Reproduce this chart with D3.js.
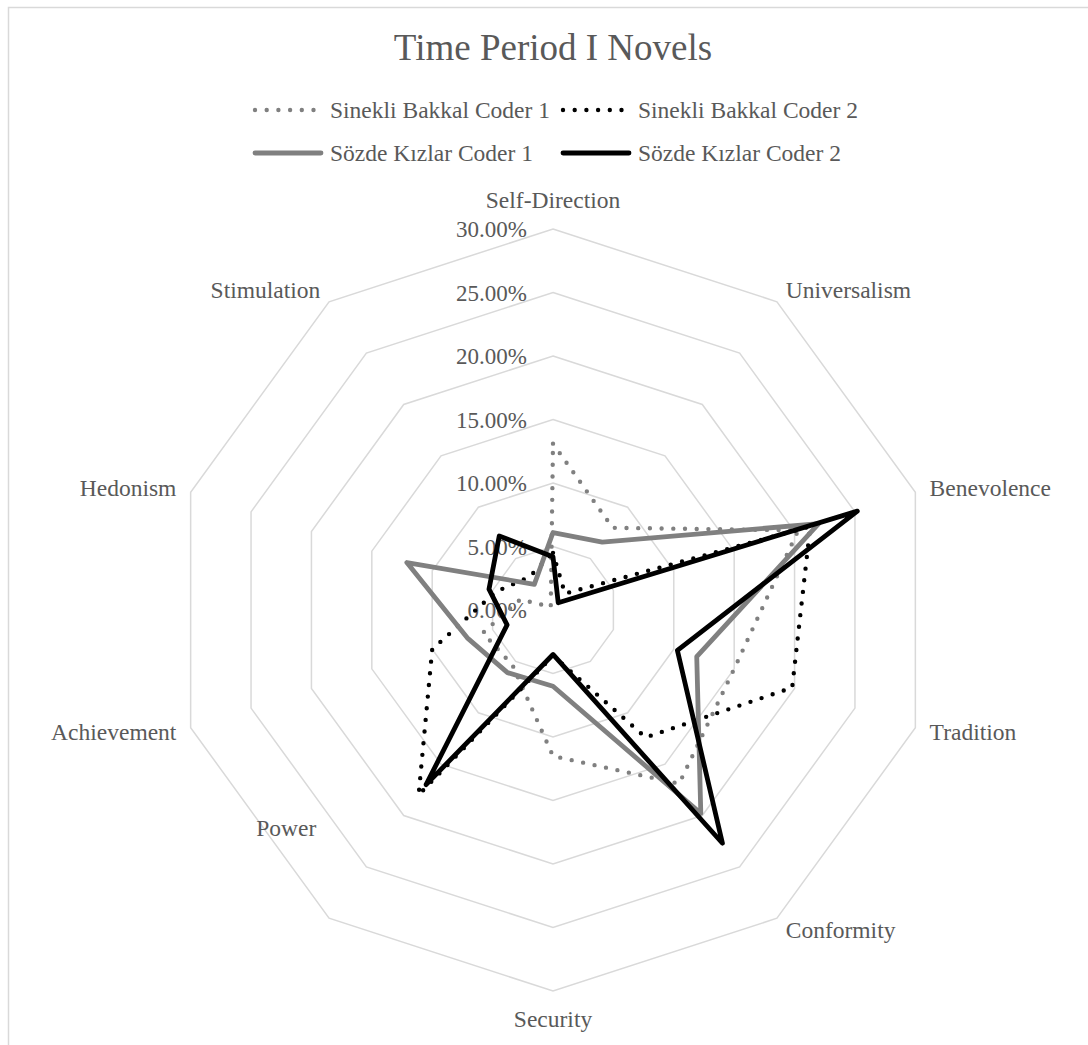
<!DOCTYPE html>
<html>
<head>
<meta charset="utf-8">
<script src="https://cdn.jsdelivr.net/npm/d3@7"></script>
<style>
  html, body { margin: 0; padding: 0; background: #fff; }
  svg { display: block; font-family: "Liberation Serif", "Times New Roman", serif; }
</style>
</head>
<body>
<div id="chart"></div>
<script>
// values, in percent, clockwise from the top axis
var categories = ["Self-Direction", "Universalism", "Benevolence", "Tradition", "Conformity",
                  "Security", "Power", "Achievement", "Hedonism", "Stimulation"];
var sinekliCoder1 = [13.1, 8.0, 20.3, 15.0, 16.9, 11.5, 5.4, 5.8, 2.7, 0.3];
var sinekliCoder2 = [4.5, 1.6, 21.3, 19.8, 12.4, 3.6, 18.0, 10.0, 4.7, 3.2];
var sozdeCoder1 = [6.1, 6.6, 22.0, 11.9, 19.8, 6.0, 6.1, 7.1, 12.1, 2.5];
var sozdeCoder2 = [4.2, 0.7, 25.2, 10.3, 22.7, 3.5, 17.0, 3.8, 5.3, 7.2];
var seriesNames = ["Sinekli Bakkal Coder 1", "Sinekli Bakkal Coder 2", "Sözde Kızlar Coder 1", "Sözde Kızlar Coder 2"];
var tickValues = [0, 5, 10, 15, 20, 25, 30];

var width = 1088,
    height = 1045,
    cx = 553,
    cy = 610,
    radius = 381,
    textColor = "#595959",
    gridColor = "#d9d9d9";

var series = [
    { name: seriesNames[0], values: sinekliCoder1, color: "#808080", dotted: true },
    { name: seriesNames[1], values: sinekliCoder2, color: "#000000", dotted: true },
    { name: seriesNames[2], values: sozdeCoder1, color: "#808080", dotted: false },
    { name: seriesNames[3], values: sozdeCoder2, color: "#000000", dotted: false }
];

var svg = d3.select("#chart").append("svg")
    .attr("width", width)
    .attr("height", height);

// chart area frame
svg.append("rect")
    .attr("x", 8.5).attr("y", 7.5)
    .attr("width", width + 20).attr("height", height + 20)
    .style("fill", "none")
    .style("stroke", gridColor)
    .style("stroke-width", 1.5);

svg.append("text")
    .attr("x", cx).attr("y", 60)
    .attr("text-anchor", "middle")
    .style("font-size", "37px")
    .style("fill", textColor)
    .text("Time Period I Novels");

var r = d3.scaleLinear().domain([0, 30]).range([0, radius]);
var angle = d3.scalePoint().domain(categories).range([0, 2 * Math.PI * (categories.length - 1) / categories.length]);

var g = svg.append("g").attr("transform", "translate(" + cx + "," + cy + ")");

var ring = d3.lineRadial()
    .angle(function (d) { return angle(d); })
    .curve(d3.curveLinearClosed);

// grid rings
g.selectAll("path.ring")
    .data(tickValues.filter(function (t) { return t > 0; }))
    .enter().append("path")
    .attr("class", "ring")
    .attr("d", function (t) { return ring.radius(r(t))(categories); })
    .style("fill", "none")
    .style("stroke", gridColor)
    .style("stroke-width", 1.5);

// tick labels on the top axis
g.selectAll("text.tick")
    .data(tickValues)
    .enter().append("text")
    .attr("class", "tick")
    .attr("x", -26)
    .attr("y", function (t) { return -r(t) + 8; })
    .attr("text-anchor", "end")
    .style("font-size", "23px")
    .style("fill", textColor)
    .text(function (t) { return d3.format(".2f")(t) + "%"; });

// category labels (Power sits higher up in the original)
var labelShift = { "Power": [-4, -102] };
g.selectAll("text.cat")
    .data(categories)
    .enter().append("text")
    .attr("class", "cat")
    .each(function (c) {
        var a = angle(c), s = Math.sin(a), co = Math.cos(a);
        var px = (radius + 15) * s, py = -(radius + 15) * co;
        var anchor = Math.abs(s) < 0.1 ? "middle" : (s > 0 ? "start" : "end");
        var dy = co > 0.99 ? -6 : (co < -0.99 ? 21 : 8);
        var sh = labelShift[c] || [0, 0];
        d3.select(this)
            .attr("x", px + sh[0]).attr("y", py + dy + sh[1])
            .attr("text-anchor", anchor);
    })
    .style("font-size", "23.5px")
    .style("fill", textColor)
    .text(function (c) { return c; });

var line = d3.lineRadial()
    .angle(function (d, i) { return angle(categories[i]); })
    .radius(function (d) { return r(d); })
    .curve(d3.curveLinearClosed);

function styleLine(sel) {
    sel.style("fill", "none")
        .style("stroke", function (d) { return d.color; })
        .style("stroke-width", function (d) { return d.dotted ? 4.4 : 4.8; })
        .style("stroke-linecap", "round")
        .style("stroke-linejoin", "round")
        .style("stroke-dasharray", function (d) { return d.dotted ? "0 11.7" : null; });
}

g.selectAll("path.series")
    .data(series)
    .enter().append("path")
    .attr("class", "series")
    .attr("d", function (d) { return line(d.values); })
    .call(styleLine);

// legend
var legendPos = [[253, 110], [561, 110], [253, 153], [561, 153]];
var legend = svg.selectAll("g.legend")
    .data(series)
    .enter().append("g")
    .attr("class", "legend")
    .attr("transform", function (d, i) { return "translate(" + legendPos[i][0] + "," + legendPos[i][1] + ")"; });

legend.append("path")
    .attr("d", "M2,0H68")
    .call(styleLine);

legend.append("text")
    .attr("x", 77)
    .attr("y", 8)
    .style("font-size", "23.5px")
    .style("fill", textColor)
    .text(function (d) { return d.name; });
</script>
</body>
</html>
